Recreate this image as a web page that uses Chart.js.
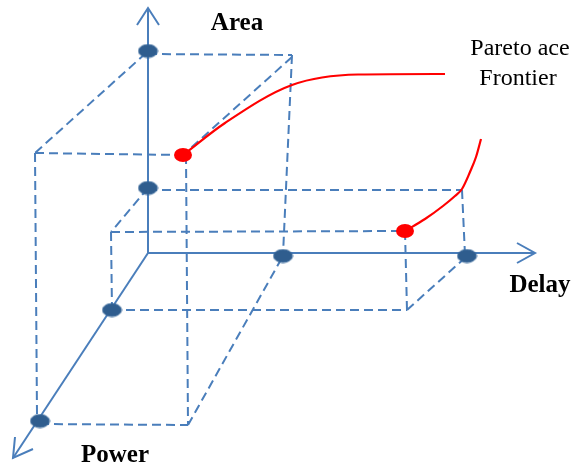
<!DOCTYPE html>
<html>
<head>
<meta charset="utf-8">
<script src="https://cdn.jsdelivr.net/npm/chart.js@4/dist/chart.umd.min.js"></script>
<style>
  html,body{margin:0;padding:0;background:#fff;overflow:hidden;}
  #wrap{width:574px;height:467px;position:relative;}
</style>
</head>
<body>
<div id="wrap"><canvas id="c"></canvas></div>
<script>
// ---- Diagram data (2D drawing coordinates of the oblique 3-D sketch) ----
const origin = {x:148, y:253};
const axisTips = [{x:148, y:8}, {x:535, y:253}, {x:13, y:458}];
const arrowHeads = [
  [{x:137,y:25},{x:148,y:8},{x:159,y:25}],
  [{x:517,y:243},{x:535,y:253},{x:517,y:263}],
  [{x:15,y:437},{x:13,y:458},{x:33,y:449}]
];
const designPoints = [
  {x:148,y:51},{x:148,y:188},   // Area axis
  {x:283,y:256},{x:467,y:256},  // Delay axis
  {x:112,y:310},{x:40,y:421}    // Power axis
];
const paretoPoints = [{x:183,y:155},{x:405,y:231}];
const dashedEdges = [
  [{x:148,y:54},{x:292,y:55}],
  [{x:292,y:55},{x:283,y:255}],
  [{x:292,y:57},{x:183,y:155}],
  [{x:146,y:53},{x:35,y:153}],
  [{x:35,y:153},{x:183,y:155}],
  [{x:35,y:153},{x:37,y:415}],
  [{x:186,y:155},{x:188,y:425}],
  [{x:40,y:424},{x:188,y:425}],
  [{x:188,y:425},{x:283,y:256}],
  [{x:148,y:190},{x:462,y:190}],
  [{x:462,y:190},{x:465,y:255}],
  [{x:148,y:188},{x:111,y:232}],
  [{x:111,y:232},{x:405,y:231}],
  [{x:111,y:232},{x:112,y:310}],
  [{x:112,y:310},{x:407,y:310}],
  [{x:405,y:231},{x:407,y:310}],
  [{x:407,y:310},{x:467,y:256}]
];
const frontierUpper = [
  {x:183,y:155},{x:225,y:123},{x:292,y:85},
  {x:358,y:74.5},{x:445,y:74}
];
const frontierLower = [
  {x:405,y:231},{x:425,y:219},{x:443,y:206},{x:455,y:196},
  {x:462,y:189},{x:470,y:172},{x:476,y:157},{x:481,y:139}
];
const textLabels = [
  {text:'Area', x:237, y:30, bold:true},
  {text:'Delay', x:540, y:292, bold:true},
  {text:'Power', x:115, y:462, bold:true},
  {text:'Pareto ace', x:520, y:55, bold:false},
  {text:'Frontier', x:518, y:85, bold:false}
];

// ---- styles ----
const LINE_BLUE = '#4A7EBB';
function ellipseSprite(w, h, fill, stroke) {
  const c = document.createElement('canvas');
  c.width = w + 2; c.height = h + 2;
  const g = c.getContext('2d');
  g.beginPath();
  g.ellipse(c.width/2, c.height/2, w/2, h/2, 0, 0, Math.PI*2);
  g.fillStyle = fill; g.fill();
  if (stroke) { g.strokeStyle = stroke; g.lineWidth = 1; g.stroke(); }
  return c;
}
const blueDot = ellipseSprite(19, 13, '#2F5D8E', '#3B6A9C');
const redDot = ellipseSprite(18, 14, '#FF0000');

const datasets = [];
dashedEdges.forEach(seg => datasets.push({
  data: seg, showLine: true, borderColor: LINE_BLUE, borderWidth: 2,
  borderDash: [9, 5], pointRadius: 0, order: 4
}));
axisTips.forEach(t => datasets.push({
  data: [origin, t], showLine: true, borderColor: LINE_BLUE, borderWidth: 2,
  pointRadius: 0, order: 3
}));
arrowHeads.forEach(a => datasets.push({
  data: a, showLine: true, borderColor: LINE_BLUE, borderWidth: 2,
  pointRadius: 0, order: 3
}));
[frontierUpper, frontierLower].forEach(f => datasets.push({
  data: f, showLine: true, borderColor: '#FF0000', borderWidth: 2.2,
  cubicInterpolationMode: 'monotone', pointRadius: 0, order: 2
}));
datasets.push({
  data: designPoints, showLine: false, pointStyle: blueDot, pointRadius: 9, order: 1
});
datasets.push({
  data: paretoPoints, showLine: false, pointStyle: redDot, pointRadius: 9, order: 0
});

const textPlugin = {
  id: 'texts',
  afterDatasetsDraw(chart) {
    const ctx = chart.ctx, xs = chart.scales.x, ys = chart.scales.y;
    ctx.save();
    ctx.fillStyle = '#000';
    ctx.textAlign = 'center';
    ctx.textBaseline = 'alphabetic';
    textLabels.forEach(l => {
      ctx.font = (l.bold ? 'bold ' : '') + (l.bold ? '25px' : '24px') + ' "Liberation Serif", "DejaVu Serif", serif';
      ctx.fillText(l.text, xs.getPixelForValue(l.x), ys.getPixelForValue(l.y));
    });
    ctx.restore();
  }
};

new Chart(document.getElementById('c'), {
  type: 'scatter',
  data: { datasets },
  options: {
    responsive: true, maintainAspectRatio: false, animation: false,
    layout: { padding: 0, autoPadding: false },
    plugins: { legend: { display: false }, tooltip: { enabled: false } },
    scales: {
      x: { type: 'linear', min: 0, max: 574, display: false },
      y: { type: 'linear', min: 0, max: 467, reverse: true, display: false }
    }
  },
  plugins: [textPlugin]
});
</script>
</body>
</html>
